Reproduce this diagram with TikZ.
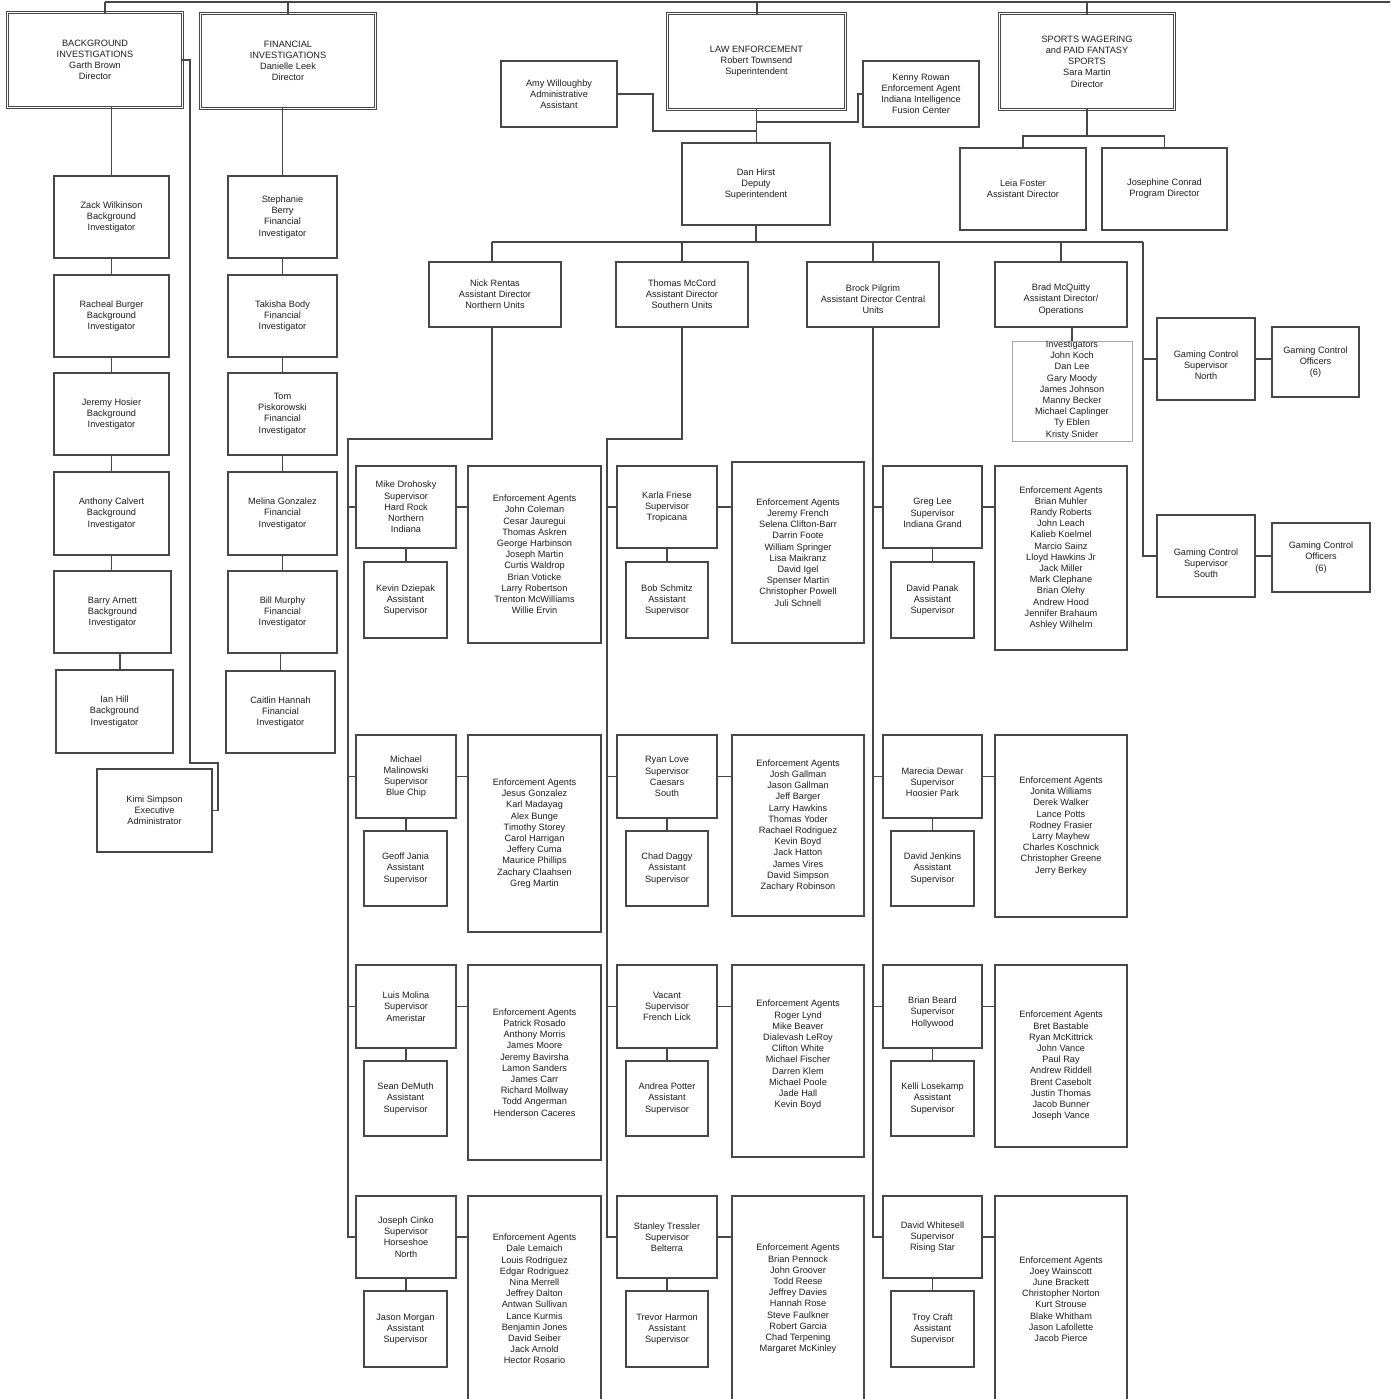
\documentclass[tikz,border=0pt]{standalone}
\usepackage{fontspec}
\setmainfont{Liberation Sans}
\newcommand{\chartfont}{\fontsize{9.2}{11.2}\selectfont}
\colorlet{lc}{black!72}
\colorlet{tc}{black!88}
\tikzset{
  box/.style={draw=lc,line width=1.1pt,inner sep=0pt,outer sep=0pt},
  dbox/.style={draw=lc,double=white,double distance=1.5pt,line width=0.9pt,inner sep=0pt,outer sep=0pt},
  txt/.style={font=\chartfont,align=center,inner sep=0pt,text=tc},
  conn/.style={draw=lc,line width=1.1pt},
}
\newcommand{\mybox}[7][0]{%
  \node[box,minimum width={#5pt-#3pt},minimum height={#6pt-#4pt}] (#2) at ({(#3+#5)/2},{(#4+#6)/2}) {};%
  \node[txt] (#2-t) at ({(#3+#5)/2},{(#4+#6)/2+(#1)}) {#7};}
\newcommand{\mydbox}[6]{%
  \node[dbox,minimum width={#4pt-#2pt-3.3pt},minimum height={#5pt-#3pt-3.3pt}] (#1) at ({(#2+#4)/2},{(#3+#5)/2}) {};%
  \node[txt] (#1-t) at ({(#2+#4)/2},{(#3+#5)/2}) {#6};}
\begin{document}
\begin{tikzpicture}[x=1pt,y=-1pt]
\useasboundingbox (0,0) rectangle (1390,1399);
\fill[white] (0,0) rectangle (1390,1399);
\clip (0,0) rectangle (1390,1399);

% ---- top level
\mydbox{bg}{6}{11}{184}{109}{BACKGROUND\\INVESTIGATIONS\\Garth Brown\\Director}
\mydbox{fi}{199}{12}{377}{110}{FINANCIAL\\INVESTIGATIONS\\Danielle Leek\\Director}
\mydbox{le}{666}{12}{847}{111}{LAW ENFORCEMENT\\Robert Townsend\\Superintendent}
\mydbox{sw}{998}{12}{1176}{111}{SPORTS WAGERING\\and PAID FANTASY\\SPORTS\\Sara Martin\\Director}

% ---- background / financial
\mybox{zack}{54}{176}{169}{258}{Zack Wilkinson\\Background\\Investigator}
\mybox{racheal}{54}{275}{169}{357}{Racheal Burger\\Background\\Investigator}
\mybox{hosier}{54}{373}{169}{455}{Jeremy Hosier\\Background\\Investigator}
\mybox{calvert}{54}{472}{169}{555}{Anthony Calvert\\Background\\Investigator}
\mybox{arnett}{54}{571}{171}{653}{Barry Arnett\\Background\\Investigator}
\mybox{ian}{56}{670}{173}{753}{Ian Hill\\Background\\Investigator}
\mybox{kimi}{97}{769}{212}{852}{Kimi Simpson\\Executive\\Administrator}
\mybox{berry}{228}{176}{337}{258}{Stephanie\\Berry\\Financial\\Investigator}
\mybox{body}{228}{275}{337}{357}{Takisha Body\\Financial\\Investigator}
\mybox{pisk}{228}{373}{337}{455}{Tom\\Piskorowski\\Financial\\Investigator}
\mybox{melina}{228}{472}{337}{555}{Melina Gonzalez\\Financial\\Investigator}
\mybox{murphy}{228}{571}{337}{653}{Bill Murphy\\Financial\\Investigator}
\mybox{hannah}{226}{671}{335}{753}{Caitlin Hannah\\Financial\\Investigator}

% ---- law enforcement upper
\mybox{amy}{501}{61}{617}{127}{Amy Willoughby\\Administrative\\Assistant}
\mybox{kenny}{863}{61}{979}{127}{Kenny Rowan\\Enforcement Agent\\Indiana Intelligence\\Fusion Center}
\mybox{dan}{682}{143}{830}{225}{Dan Hirst\\Deputy\\Superintendent}
\mybox{leia}{960}{148}{1086}{230}{Leia Foster\\Assistant Director}
\mybox{jos}{1102}{148}{1227}{230}{Josephine Conrad\\Program Director}
\mybox{nick}{429}{262}{561}{327}{Nick Rentas\\Assistant Director\\Northern Units}
\mybox{mccord}{616}{262}{748}{327}{Thomas McCord\\Assistant Director\\Southern Units}
\mybox[5]{pilgrim}{807}{262}{939}{327}{Brock Pilgrim\\Assistant Director Central\\Units}
\mybox[5]{mcq}{995}{262}{1127}{327}{Brad McQuitty\\Assistant Director/\\Operations}
\node[box,draw=black!35,line width=0.9pt,minimum width=120pt,minimum height=100pt] (inv) at (1072,391) {};
\node[txt] (inv-t) at (1072,390) {Investigators\\John Koch\\Dan Lee\\Gary Moody\\James Johnson\\Manny Becker\\Michael Caplinger\\Ty Eblen\\Kristy Snider};
\mybox[6]{gcsn}{1157}{318}{1255}{400}{Gaming Control\\Supervisor\\North}
\mybox{gcon}{1272}{327}{1359}{397}{Gaming Control\\Officers\\(6)}
\mybox[7]{gcss}{1157}{515}{1255}{597}{Gaming Control\\Supervisor\\South}
\mybox{gcos}{1272}{523}{1370}{592}{Gaming Control\\Officers\\(6)}

% ---- row 1
\mybox{droh}{356}{466}{456}{548}{Mike Drohosky\\Supervisor\\Hard Rock\\Northern\\Indiana}
\mybox{dziepak}{364}{562}{447}{638}{Kevin Dziepak\\Assistant\\Supervisor}
\mybox{eaA}{468}{466}{601}{643}{Enforcement Agents\\John Coleman\\Cesar Jauregui\\Thomas Askren\\George Harbinson\\Joseph Martin\\Curtis Waldrop\\Brian Voticke\\Larry Robertson\\Trenton McWilliams\\Willie Ervin}
\mybox{friese}{617}{466}{717}{548}{Karla Friese\\Supervisor\\Tropicana}
\mybox{schmitz}{626}{562}{708}{638}{Bob Schmitz\\Assistant\\Supervisor}
\mybox{eaB}{732}{462}{864}{643}{Enforcement Agents\\Jeremy French\\Selena Clifton-Barr\\Darrin Foote\\William Springer\\Lisa Maikranz\\David Igel\\Spenser Martin\\Christopher Powell\\Juli Schnell}
\mybox[6]{glee}{883}{466}{982}{548}{Greg Lee\\Supervisor\\Indiana Grand}
\mybox{panak}{891}{562}{974}{638}{David Panak\\Assistant\\Supervisor}
\mybox{eaC}{995}{466}{1127}{650}{Enforcement Agents\\Brian Muhler\\Randy Roberts\\John Leach\\Kalieb Koelmel\\Marcio Sainz\\Lloyd Hawkins Jr\\Jack Miller\\Mark Clephane\\Brian Olehy\\Andrew Hood\\Jennifer Brahaum\\Ashley Wilhelm}

% ---- row 2
\mybox{malin}{356}{735}{456}{818}{Michael\\Malinowski\\Supervisor\\Blue Chip}
\mybox{jania}{364}{831}{447}{906}{Geoff Jania\\Assistant\\Supervisor}
\mybox{eaD}{468}{735}{601}{932}{Enforcement Agents\\Jesus Gonzalez\\Karl Madayag\\Alex Bunge\\Timothy Storey\\Carol Harrigan\\Jeffery Cuma\\Maurice Phillips\\Zachary Claahsen\\Greg Martin}
\mybox{love}{617}{735}{717}{818}{Ryan Love\\Supervisor\\Caesars\\South}
\mybox{daggy}{626}{831}{708}{906}{Chad Daggy\\Assistant\\Supervisor}
\mybox{eaE}{732}{735}{864}{916}{Enforcement Agents\\Josh Gallman\\Jason Gallman\\Jeff Barger\\Larry Hawkins\\Thomas Yoder\\Rachael Rodriguez\\Kevin Boyd\\Jack Hatton\\James Vires\\David Simpson\\Zachary Robinson}
\mybox[6]{dewar}{883}{735}{982}{818}{Marecia Dewar\\Supervisor\\Hoosier Park}
\mybox{jenkins}{891}{831}{974}{906}{David Jenkins\\Assistant\\Supervisor}
\mybox{eaF}{995}{735}{1127}{917}{Enforcement Agents\\Jonita Williams\\Derek Walker\\Lance Potts\\Rodney Frasier\\Larry Mayhew\\Charles Koschnick\\Christopher Greene\\Jerry Berkey}

% ---- row 3
\mybox{molina}{356}{965}{456}{1048}{Luis Molina\\Supervisor\\Ameristar}
\mybox{demuth}{364}{1061}{447}{1136}{Sean DeMuth\\Assistant\\Supervisor}
\mybox{eaG}{468}{965}{601}{1160}{Enforcement Agents\\Patrick Rosado\\Anthony Morris\\James Moore\\Jeremy Bavirsha\\Lamon Sanders\\James Carr\\Richard Mollway\\Todd Angerman\\Henderson Caceres}
\mybox{vacant}{617}{965}{717}{1048}{Vacant\\Supervisor\\French Lick}
\mybox{potter}{626}{1061}{708}{1136}{Andrea Potter\\Assistant\\Supervisor}
\mybox[-6]{eaH}{732}{965}{864}{1157}{Enforcement Agents\\Roger Lynd\\Mike Beaver\\Dialevash LeRoy\\Clifton White\\Michael Fischer\\Darren Klem\\Michael Poole\\Jade Hall\\Kevin Boyd}
\mybox[6]{beard}{883}{965}{982}{1048}{Brian Beard\\Supervisor\\Hollywood}
\mybox{losekamp}{891}{1061}{974}{1136}{Kelli Losekamp\\Assistant\\Supervisor}
\mybox[10]{eaI}{995}{965}{1127}{1147}{Enforcement Agents\\Bret Bastable\\Ryan McKittrick\\John Vance\\Paul Ray\\Andrew Riddell\\Brent Casebolt\\Justin Thomas\\Jacob Bunner\\Joseph Vance}

% ---- row 4
\mybox{cinko}{356}{1196}{456}{1278}{Joseph Cinko\\Supervisor\\Horseshoe\\North}
\mybox{morgan}{364}{1291}{447}{1367}{Jason Morgan\\Assistant\\Supervisor}
\mybox{eaJ}{468}{1196}{601}{1402}{Enforcement Agents\\Dale Lemaich\\Louis Rodriguez\\Edgar Rodriguez\\Nina Merrell\\Jeffrey Dalton\\Antwan Sullivan\\Lance Kurmis\\Benjamin Jones\\David Seiber\\Jack Arnold\\Hector Rosario}
\mybox{tressler}{617}{1196}{717}{1278}{Stanley Tressler\\Supervisor\\Belterra}
\mybox{harmon}{626}{1291}{708}{1367}{Trevor Harmon\\Assistant\\Supervisor}
\mybox{eaK}{732}{1196}{864}{1402}{Enforcement Agents\\Brian Pennock\\John Groover\\Todd Reese\\Jeffrey Davies\\Hannah Rose\\Steve Faulkner\\Robert Garcia\\Chad Terpening\\Margaret McKinley}
\mybox{whitesell}{883}{1196}{982}{1278}{David Whitesell\\Supervisor\\Rising Star}
\mybox{craft}{891}{1291}{974}{1367}{Troy Craft\\Assistant\\Supervisor}
\mybox{eaL}{995}{1196}{1127}{1402}{Enforcement Agents\\Joey Wainscott\\June Brackett\\Christopher Norton\\Kurt Strouse\\Blake Whitham\\Jason Lafollette\\Jacob Pierce}

% ================= connectors
\coordinate (tBG) at (105,2);
\coordinate (tFI) at (288,2);
\coordinate (tLE) at (757,2);
\coordinate (tSW) at (1087,2);
\draw[conn] (tBG) -- (1400,2);
\draw[conn] (tBG) -- (tBG |- bg.north);
\draw[conn] (tFI) -- (tFI |- fi.north);
\draw[conn] (tLE) -- (tLE |- le.north);
\draw[conn] (tSW) -- (tSW |- sw.north);

% background investigations
\draw[conn] (zack.north |- bg.south) -- (zack.north);
\foreach \a/\b in {zack/racheal,racheal/hosier,hosier/calvert,calvert/arnett}
  \draw[conn] (\a.south) -- (\a.south |- \b.north);
\coordinate (ci) at (120,0);
\draw[conn] (ci |- arnett.south) -- (ci |- ian.north);
\coordinate (k1) at (190,763);
\coordinate (k2) at (218,763);
\draw[conn] (bg.east) -| (k1) -- (k2) |- (kimi.east);

% financial investigations
\draw[conn] (berry.north |- fi.south) -- (berry.north);
\foreach \a/\b in {berry/body,body/pisk,pisk/melina,melina/murphy}
  \draw[conn] (\a.south) -- (\a.south |- \b.north);
\draw[conn] (hannah.north |- murphy.south) -- (hannah.north);

% law enforcement
\draw[conn] (le.south) -- (le.south |- dan.north);
\coordinate (jA) at (757,131);
\coordinate (jK) at (757,122);
\draw[conn] (amy.east) -- ++(36,0) |- (jA);
\draw[conn] (kenny.west) -- ++(-5,0) |- (jK);
\coordinate (busL) at (492,242);
\coordinate (busR) at (1143,242);
\draw[conn] (dan.south) -- (dan.south |- busL);
\draw[conn] (busL) -- (busR);
\draw[conn] (busL) -- (busL |- nick.north);
\draw[conn] (mccord.north |- busL) -- (mccord.north);
\draw[conn] (pilgrim.north |- busL) -- (pilgrim.north);
\draw[conn] (mcq.north |- busL) -- (mcq.north);
\draw[conn] (busR) |- (gcss.west);
\draw[conn] (busR |- gcsn.west) -- (gcsn.west);
\draw[conn] (gcsn.east) -- (gcsn.east -| gcon.west);
\draw[conn] (gcss.east) -- (gcss.east -| gcos.west);
\draw[conn] (inv.north |- mcq.south) -- (inv.north);

% sports wagering
\coordinate (swb) at (1087,136);
\draw[conn] (sw.south) -- (sw.south |- swb);
\draw[conn] (leia.north) |- (swb) -| (jos.north);

% unit columns
\coordinate (n1) at (492,439);
\coordinate (ncol) at (348,439);
\draw[conn] (n1 |- nick.south) -- (n1) -- (ncol) |- (cinko.west);
\foreach \s in {droh,malin,molina}
  \draw[conn] (ncol |- \s.west) -- (\s.west);
\coordinate (mcol) at (607,439);
\draw[conn] (mccord.south) |- (mcol) |- (tressler.west);
\foreach \s in {friese,love,vacant}
  \draw[conn] (mcol |- \s.west) -- (\s.west);
\draw[conn] (pilgrim.south) |- (whitesell.west);
\foreach \s in {glee,dewar,beard}
  \draw[conn] (pilgrim.south |- \s.west) -- (\s.west);

\foreach \s/\a/\e in {droh/dziepak/eaA,friese/schmitz/eaB,glee/panak/eaC,malin/jania/eaD,love/daggy/eaE,dewar/jenkins/eaF,molina/demuth/eaG,vacant/potter/eaH,beard/losekamp/eaI,cinko/morgan/eaJ,tressler/harmon/eaK,whitesell/craft/eaL}{
  \draw[conn] (\s.south) -- (\s.south |- \a.north);
  \draw[conn] (\s.east) -- (\s.east -| \e.west);
}
\end{tikzpicture}
\end{document}
